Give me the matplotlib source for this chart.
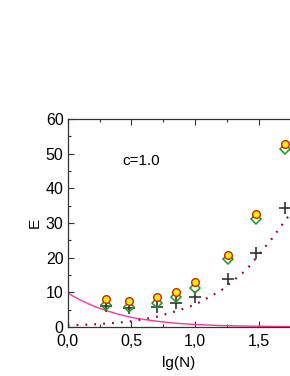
import matplotlib
matplotlib.use("Agg")
import matplotlib.pyplot as plt
from matplotlib.ticker import MultipleLocator, FuncFormatter

plt.rcParams['font.family'] = ['Liberation Sans', 'DejaVu Sans']

lgN = [0.301, 0.477, 0.699, 0.845, 1.0, 1.255, 1.477, 1.699]
E_circle = [8.0, 7.4, 8.7, 10.2, 12.9, 20.8, 32.6, 52.8]
E_diamond = [6.3, 5.9, 7.0, 8.6, 11.2, 19.5, 31.1, 51.3]
E_plus = [6.1, 5.5, 5.9, 7.0, 8.7, 13.8, 21.4, 34.2]

curve_x = [0.0, 0.1, 0.2, 0.3, 0.4, 0.5, 0.6, 0.7, 0.85, 1.0, 1.2, 1.4, 1.6, 1.75]
curve_solid = [9.8, 7.8, 6.1, 4.8, 3.7, 2.8, 2.2, 1.7, 1.1, 0.75, 0.45, 0.3, 0.2, 0.15]
curve_dot = [0.5, 0.6, 0.8, 1.0, 1.3, 1.7, 2.3, 3.0, 4.6, 6.5, 10.5, 16.5, 25.5, 33.0]

fig = plt.figure(figsize=(2.9, 3.76), dpi=100)
ax = fig.add_axes([0.2334, 0.130, 0.7666, 0.5535])

ax.plot(curve_x, curve_solid, color='#ff3399', lw=1.0, zorder=2)
ax.plot(curve_x, curve_dot, color='#a0002a', lw=1.6, linestyle=(0, (0.8, 3.2)), zorder=2)
ax.plot(lgN, E_plus, linestyle='none', marker='+', ms=9, mew=1.2, color='#333333', zorder=3)
ax.plot(lgN, E_diamond, linestyle='none', marker='D', ms=5.2, mew=1.1,
        mfc='none', mec='#1a9a1a', zorder=4)
ax.plot(lgN, E_circle, linestyle='none', marker='o', ms=5.5, mew=1.0,
        mfc='#ffee00', mec='#cc2200', zorder=5)

ax.set_xlim(0, 1.742)
ax.set_ylim(0, 60)
ax.xaxis.set_major_locator(MultipleLocator(0.5))
ax.xaxis.set_minor_locator(MultipleLocator(0.25))
ax.yaxis.set_major_locator(MultipleLocator(10))
ax.yaxis.set_minor_locator(MultipleLocator(5))
ax.xaxis.set_major_formatter(FuncFormatter(lambda v, p: f"{v:.1f}".replace('.', ',')))
ax.tick_params(which='both', direction='in', top=True, right=False, labelsize=11.5, width=0.8, color='#333333')
ax.tick_params(which='major', length=4)
ax.tick_params(which='minor', length=2.5)
ax.tick_params(axis='x', pad=5)
ax.tick_params(axis='y', pad=3)
ax.spines['right'].set_visible(False)
for s in ['left', 'bottom', 'top']:
    ax.spines[s].set_color('#333333')
    ax.spines[s].set_linewidth(0.9)

ax.set_ylabel('E', fontsize=11, labelpad=3)
ax.set_xlabel('lg(N)', fontsize=11, labelpad=5)
ax.text(0.43, 48, 'c=1.0', fontsize=11, va='center', ha='left')

fig.savefig('out.png', dpi=100)
